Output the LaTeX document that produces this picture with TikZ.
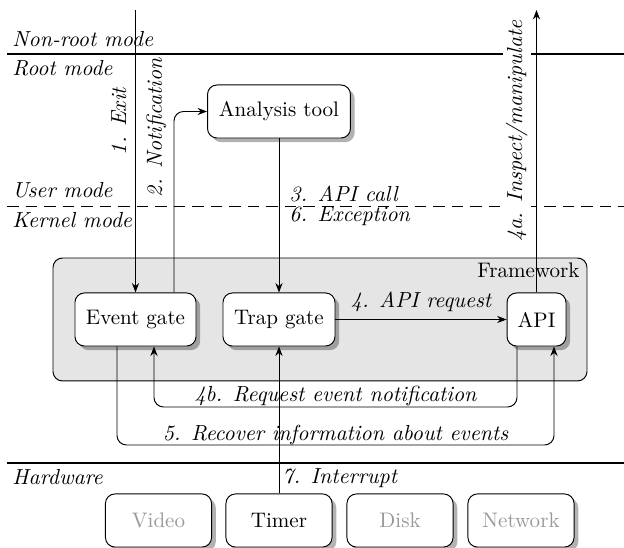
\documentclass[tikz,border=0pt]{standalone}
\usetikzlibrary{shadows,arrows.meta}
\begin{document}
\begin{tikzpicture}[x=0.475pt, y=-0.475pt,
  >={Stealth[length=4.5pt,width=3.4pt]},
  line width=0.45pt,
  box/.style={draw, rounded corners=4.5pt, fill=white, minimum height=25.2pt, inner sep=2pt,
    drop shadow={shadow xshift=2pt, shadow yshift=-2pt, opacity=0.3, fill=black}},
  hw/.style={box, minimum width=50.4pt},
  dim/.style={text=black!40},
  lab/.style={font=\fontsize{10.35pt}{12.4pt}\selectfont\itshape, inner sep=0pt},
  modelab/.style={lab, anchor=base west},
  sep/.style={line width=1.2pt},
  usersep/.style={dash pattern=on 5.5pt off 3.3pt},
  conn/.style={->},
  frame/.style={draw, fill=black!10, rounded corners=4.5pt}
]
\useasboundingbox (0,0) rectangle (624,548);

% mode separators
\coordinate (s1l) at (7,54);    \coordinate (s1r) at (624,54);
\coordinate (s2l) at (7,206);   \coordinate (s2r) at (624,206);
\coordinate (s3l) at (7,463);   \coordinate (s3r) at (624,463);
\draw[sep] (s1l) -- (s1r);
\draw[usersep] (s2l) -- (s2r);
\draw[sep] (s3l) -- (s3r);

\node[modelab] (nr)  at (12,47)  {Non-root mode};
\node[modelab] (rm)  at (12,76)  {Root mode};
\node[modelab] (um)  at (12,198) {User mode};
\node[modelab] (km)  at (12,228) {Kernel mode};
\node[modelab] (hwl) at (12,485) {Hardware};

% framework
\node[frame, minimum width=253.65pt, minimum height=58.4pt] (fw) at (320,319.5) {};
\node[anchor=base east, inner sep=0pt] (fwl) at (580,278) {Framework};

% nodes
\node[box, minimum width=67.9pt] (at)  at (279,111.5) {Analysis tool};
\node[box, minimum width=57.5pt] (evt) at (135.5,319.5) {Event gate};
\node[box, minimum width=53.2pt] (tg)  at (279,319.5) {Trap gate};
\node[box, minimum width=28pt]   (api) at (536.5,319.5) {API};

\node[hw, dim] (vid) at (158.5,520.5) {Video};
\node[hw]      (tim) at (279,520.5)   {Timer};
\node[hw, dim] (dsk) at (400,520.5)   {Disk};
\node[hw, dim] (net) at (521,520.5)   {Network};

% connectors
\coordinate (exitTop) at (135.5,10);
\draw[conn] (exitTop) -- (evt.north);
\node[lab, rotate=90, anchor=base] (l1) at (126,121.5) {1. Exit};

\coordinate (nx) at (174,112);
\draw[conn, rounded corners=4.5pt] (evt.north -| nx) |- (at.west);
\node[lab, rotate=90, anchor=base] (l2) at (162,127.5) {2. Notification};

\draw[conn] (at.south) -- (tg.north);
\node[modelab] (l3) at (289,202) {3. API call};
\node[modelab] (l6) at (289,222) {6. Exception};

\draw[conn] (tg.east) -- node[lab, anchor=base, yshift=5.5pt] (l4) {4. API request} (api.west);

\coordinate (top4a) at (536.5,10);
\draw[conn] (api.north) -- (top4a);
\node[lab, rotate=90, anchor=base, fill=white, inner sep=1.5pt] (l4a) at (522,131) {4a. Inspect/manipulate};

\coordinate (r4b) at (517,407);
\coordinate (l4b) at (154,407);
\draw[conn, rounded corners=4.5pt] (api.south -| r4b) -- (r4b)
  -- node[lab, anchor=base, yshift=2.4pt] (l4bt) {4b. Request event notification} (l4b)
  -- (evt.south -| l4b);

\coordinate (l5) at (117,445);
\coordinate (r5) at (554,445);
\draw[conn, rounded corners=4.5pt] (evt.south -| l5) -- (l5)
  -- node[lab, anchor=base, yshift=1.9pt] (l5t) {5. Recover information about events} (r5)
  -- (api.south -| r5);

\draw[conn] (tim.north) -- (tg.south);
\node[modelab] (l7) at (282,484) {7. Interrupt};
\end{tikzpicture}
\end{document}
